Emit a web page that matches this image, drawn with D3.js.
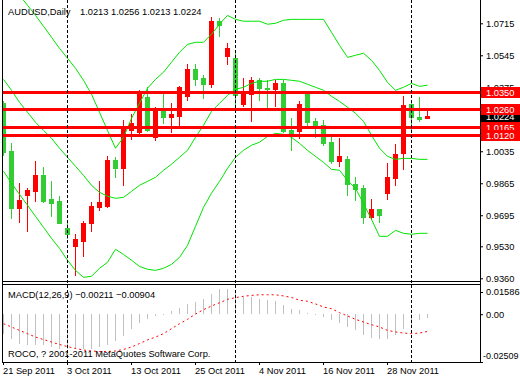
<!DOCTYPE html>
<html><head><meta charset="utf-8">
<script src="https://cdn.jsdelivr.net/npm/d3@7"></script>
<style>
html,body{margin:0;padding:0;background:#fff;}
svg{display:block;}
</style></head><body>
<svg id="c" width="520" height="380"></svg>
<script>
// ---------------- DATA ----------------
const dates = ["2011-09-21","2011-09-22","2011-09-23","2011-09-26","2011-09-27","2011-09-28","2011-09-29","2011-09-30",
"2011-10-03","2011-10-04","2011-10-05","2011-10-06","2011-10-07","2011-10-10","2011-10-11","2011-10-12","2011-10-13","2011-10-14",
"2011-10-17","2011-10-18","2011-10-19","2011-10-20","2011-10-21","2011-10-24","2011-10-25","2011-10-26","2011-10-27","2011-10-28","2011-10-31",
"2011-11-01","2011-11-02","2011-11-03","2011-11-04","2011-11-07","2011-11-08","2011-11-09","2011-11-10","2011-11-11","2011-11-14","2011-11-15",
"2011-11-16","2011-11-17","2011-11-18","2011-11-21","2011-11-22","2011-11-23","2011-11-24","2011-11-25","2011-11-28","2011-11-29","2011-11-30",
"2011-12-01","2011-12-02","2011-12-05"];

const open  = [1.0290,1.0035,0.9732,0.9801,0.9822,0.9907,0.9780,0.9769,0.9626,0.9530,0.9556,0.9652,0.9737,0.9742,0.9987,0.9944,1.0146,1.0136,1.0322,1.0109,1.0263,1.0215,1.0221,1.0327,1.0471,1.0423,1.0391,1.0726,1.0540,1.0529,1.0284,1.0338,1.0412,1.0370,1.0364,1.0396,1.0146,1.0141,1.0338,1.0194,1.0173,1.0083,0.9982,0.9992,0.9859,0.9838,0.9684,0.9727,0.9812,0.9891,1.0024,1.0284,1.0215,1.0213];
const high  = [1.0300,1.0077,0.9865,0.9838,0.9982,0.9950,0.9875,0.9796,0.9668,0.9594,0.9663,0.9764,0.9875,1.0008,1.0003,1.0199,1.0231,1.0359,1.0375,1.0269,1.0348,1.0290,1.0380,1.0497,1.0497,1.0439,1.0747,1.0742,1.0609,1.0556,1.0423,1.0428,1.0423,1.0412,1.0412,1.0412,1.0210,1.0300,1.0343,1.0210,1.0199,1.0109,1.0104,1.0008,0.9897,0.9854,0.9780,0.9727,0.9971,1.0072,1.0327,1.0290,1.0322,1.0256];
const low   = [1.0014,0.9679,0.9658,0.9610,0.9769,0.9764,0.9689,0.9652,0.9572,0.9376,0.9477,0.9610,0.9721,0.9737,0.9897,0.9854,1.0099,1.0130,1.0141,1.0093,1.0184,1.0136,1.0157,1.0306,1.0386,1.0316,1.0375,1.0646,1.0497,1.0263,1.0274,1.0194,1.0306,1.0269,1.0274,1.0136,1.0040,1.0104,1.0157,1.0109,1.0067,0.9971,0.9955,0.9801,0.9774,0.9652,0.9673,0.9658,0.9780,0.9854,0.9939,1.0146,1.0194,1.0213];
const close = [1.0029,0.9732,0.9774,0.9827,0.9907,0.9769,0.9758,0.9652,0.9594,0.9567,0.9652,0.9742,0.9764,0.9987,0.9944,1.0162,1.0184,1.0338,1.0146,1.0258,1.0215,1.0231,1.0375,1.0471,1.0417,1.0391,1.0726,1.0704,1.0582,1.0332,1.0348,1.0412,1.0370,1.0364,1.0396,1.0141,1.0130,1.0284,1.0189,1.0168,1.0077,0.9982,1.0008,0.9859,0.9833,0.9684,0.9727,0.9695,0.9897,1.0019,1.0279,1.0215,1.0205,1.0224];

const bbUpper  = [1.0970,1.0917,1.0864,1.0811,1.0757,1.0699,1.0641,1.0582,1.0529,1.0476,1.0412,1.0338,1.0242,1.0146,1.0051,1.0109,1.0210,1.0290,1.0370,1.0417,1.0455,1.0508,1.0561,1.0603,1.0614,1.0614,1.0657,1.0710,1.0757,1.0736,1.0726,1.0726,1.0726,1.0710,1.0715,1.0731,1.0736,1.0736,1.0736,1.0736,1.0736,1.0667,1.0598,1.0534,1.0545,1.0556,1.0518,1.0465,1.0401,1.0359,1.0375,1.0396,1.0380,1.0386];
const bbMiddle = [1.0417,1.0359,1.0295,1.0242,1.0189,1.0146,1.0104,1.0051,1.0003,0.9955,0.9907,0.9854,0.9817,0.9796,0.9785,0.9790,0.9822,0.9854,0.9875,0.9897,0.9934,0.9966,1.0003,1.0040,1.0109,1.0173,1.0247,1.0290,1.0332,1.0364,1.0375,1.0396,1.0407,1.0407,1.0417,1.0417,1.0412,1.0407,1.0391,1.0375,1.0359,1.0327,1.0300,1.0269,1.0237,1.0194,1.0120,1.0051,1.0008,0.9992,0.9997,0.9997,0.9992,0.9992];
const bbLower  = [0.9929,0.9865,0.9806,0.9748,0.9689,0.9631,0.9572,0.9519,0.9456,0.9402,0.9365,0.9371,0.9413,0.9445,0.9514,0.9487,0.9456,0.9423,0.9408,0.9402,0.9413,0.9434,0.9471,0.9535,0.9636,0.9737,0.9812,0.9875,0.9944,1.0003,1.0040,1.0067,1.0083,1.0114,1.0130,1.0125,1.0109,1.0077,1.0040,1.0008,0.9976,0.9939,0.9934,0.9880,0.9838,0.9758,0.9673,0.9583,0.9583,0.9615,0.9599,0.9594,0.9599,0.9599];

const macdMain   = [-0.0102,-0.0129,-0.0155,-0.0160,-0.0163,-0.0163,-0.0172,-0.0181,-0.0185,-0.0185,-0.0185,-0.0183,-0.0172,-0.0164,-0.0141,-0.0114,-0.0080,-0.0044,-0.0025,-0.0011,-0.0006,0.0015,0.0031,0.0051,0.0064,0.0078,0.0104,0.0131,0.0134,0.0117,0.0090,0.0090,0.0081,0.0073,0.0068,0.0047,0.0029,0.0024,0.0006,-0.0002,-0.0015,-0.0029,-0.0045,-0.0067,-0.0085,-0.0111,-0.0125,-0.0132,-0.0129,-0.0111,-0.0076,-0.0058,-0.0032,-0.00211];
const macdSignal = [-0.0050,-0.0067,-0.0085,-0.0102,-0.0120,-0.0133,-0.0146,-0.0159,-0.0170,-0.0180,-0.0188,-0.0193,-0.0196,-0.0196,-0.0193,-0.0185,-0.0172,-0.0154,-0.0135,-0.0120,-0.0102,-0.0076,-0.0050,-0.0027,0.0001,0.0024,0.0043,0.0060,0.0078,0.0087,0.0094,0.0099,0.0102,0.0102,0.0102,0.0096,0.0088,0.0073,0.0068,0.0054,0.0038,0.0029,0.0008,-0.0009,-0.0027,-0.0041,-0.0055,-0.0067,-0.0085,-0.0093,-0.0099,-0.0102,-0.0099,-0.00904];

const priceTicks = [1.0715,1.0545,1.0375,1.0035,0.9865,0.9695,0.9530,0.9360];
const levels = [1.0350,1.0260,1.0165,1.0120];
const bidPrice = 1.0224;
const macdTicks = [0.01586,0.00,-0.02509];
const macdTickLabels = ["0.01586","0.00","-0.02509"];
const dateTickIdx = [0,8,16,24,32,40,48];
const dateTickLabels = ["21 Sep 2011","3 Oct 2011","13 Oct 2011","25 Oct 2011","4 Nov 2011","16 Nov 2011","28 Nov 2011"];
const symbolTitle = "AUDUSD,Daily";
const macdTitle = "MACD(12,26,9)";
const footer = "ROCO, ? 2001-2011 MetaQuotes Software Corp.";

// ---------------- LAYOUT ----------------
const FONT = "'Liberation Sans', Arial, sans-serif";
const FS = 9.3;
const leftX = 2, rightX = 480, mainTop = 2, mainBot = 281, mTop = 284, mBot = 362;
const RED = "#ff0000", GREEN = "#32cd32", BAND = "#00e400", HIST = "#c0c0c0";

const svg = d3.select("#c");
svg.append("rect").attr("width",520).attr("height",380).attr("fill","#fff");

const n = dates.length;
const x = d3.scaleLinear().domain([0, n - 1]).range([3, 3 + 8 * (n - 1)]);
const y = d3.scaleLinear().domain([0.93456, 1.08282]).range([mainBot, mainTop]);
const ym = d3.scaleLinear().domain([-0.02509, 0.01586]).range([mBot, mTop]);

const defs = svg.append("defs");
defs.append("clipPath").attr("id","clipMain").append("rect")
  .attr("x", leftX + 1).attr("y", 0).attr("width", rightX - leftX - 1).attr("height", mainBot);
defs.append("clipPath").attr("id","clipMacd").append("rect")
  .attr("x", leftX + 1).attr("y", mTop + 1).attr("width", rightX - leftX - 1).attr("height", mBot - mTop - 1);

const idx = d3.range(n);
const gMain = svg.append("g").attr("clip-path","url(#clipMain)");

// candles
const cg = gMain.append("g").attr("shape-rendering","crispEdges");
idx.forEach(i => {
  const up = close[i] >= open[i];
  const col = up ? RED : GREEN;
  const xc = Math.round(x(i));
  const yh = Math.round(y(high[i])), yl = Math.round(y(low[i]));
  cg.append("rect").attr("x", xc).attr("y", yh).attr("width", 1).attr("height", Math.max(1, yl - yh + 1)).attr("fill", col);
  const yt = Math.round(y(Math.max(open[i], close[i]))), yb = Math.round(y(Math.min(open[i], close[i])));
  cg.append("rect").attr("x", xc - 2).attr("y", yt).attr("width", 5).attr("height", Math.max(1, yb - yt + 1)).attr("fill", col);
});

// bollinger bands
[bbUpper, bbMiddle, bbLower].forEach(arr => {
  gMain.append("path").datum(idx)
    .attr("d", d3.line().x(i => x(i) + 0.5).y(i => y(arr[i])))
    .attr("fill","none").attr("stroke", BAND).attr("stroke-width", 1);
});

// horizontal levels
const lg = gMain.append("g").attr("shape-rendering","crispEdges");
levels.forEach(v => {
  lg.append("rect").attr("x", leftX + 1).attr("y", Math.round(y(v)) - 1)
    .attr("width", rightX - leftX - 1).attr("height", 3).attr("fill", RED);
});

// MACD panel
const gM = svg.append("g").attr("clip-path","url(#clipMacd)");
const hg = gM.append("g").attr("shape-rendering","crispEdges");
idx.forEach(i => {
  const y0 = Math.round(ym(0)), y1 = Math.round(ym(macdMain[i]));
  hg.append("rect").attr("x", Math.round(x(i))).attr("y", Math.min(y0, y1))
    .attr("width", 1).attr("height", Math.max(1, Math.abs(y1 - y0))).attr("fill", HIST);
});
gM.append("path").datum(idx)
  .attr("d", d3.line().x(i => x(i) + 0.5).y(i => ym(macdSignal[i])))
  .attr("fill","none").attr("stroke", RED).attr("stroke-width", 1).attr("stroke-dasharray","2,3");

// period separators (first bar of each month)
const sepIdx = idx.filter(i => i > 0 && dates[i].slice(5,7) !== dates[i-1].slice(5,7));
svg.append("g").selectAll("line").data(sepIdx).join("line")
  .attr("x1", i => Math.round(x(i)) + 0.5).attr("x2", i => Math.round(x(i)) + 0.5)
  .attr("y1", 0).attr("y2", mBot)
  .attr("stroke","#000").attr("stroke-width",1).attr("stroke-dasharray","3,2");

// frames
const fr = svg.append("g").attr("stroke","#000").attr("stroke-width",1).attr("shape-rendering","crispEdges");
fr.append("line").attr("x1", leftX + 0.5).attr("x2", leftX + 0.5).attr("y1", 0).attr("y2", mBot + 0.5);
fr.append("line").attr("x1", rightX + 0.5).attr("x2", rightX + 0.5).attr("y1", 0).attr("y2", mBot + 0.5);
fr.append("line").attr("x1", leftX).attr("x2", rightX + 1).attr("y1", mainBot + 0.5).attr("y2", mainBot + 0.5);
fr.append("line").attr("x1", leftX).attr("x2", rightX + 1).attr("y1", mTop + 0.5).attr("y2", mTop + 0.5);
fr.append("line").attr("x1", leftX).attr("x2", rightX + 1).attr("y1", mBot + 0.5).attr("y2", mBot + 0.5);

// price axis
const gy = svg.append("g").attr("transform", `translate(${rightX},0)`)
  .call(d3.axisRight(y).tickValues(priceTicks).tickFormat(d3.format(".4f")).tickSize(3).tickPadding(3));
gy.select(".domain").remove();
gy.attr("font-family", FONT).attr("font-size", FS);
gy.selectAll("text").attr("fill","#000");

// macd axis
const gmy = svg.append("g").attr("transform", `translate(${rightX},0)`)
  .call(d3.axisRight(ym).tickValues(macdTicks).tickFormat((d,i) => macdTickLabels[i]).tickSize(3).tickPadding(3));
gmy.select(".domain").remove();
gmy.attr("font-family", FONT).attr("font-size", FS);
gmy.selectAll("text").attr("fill","#000");
gmy.selectAll(".tick").filter(d => d === macdTicks[0]).attr("transform", `translate(0,${ym(macdTicks[0]) + 8.5})`);
gmy.selectAll(".tick").filter(d => d === macdTicks[2]).select("text").attr("y", -6).attr("x", 3).attr("font-size", 9);

// date axis
const gx = svg.append("g").attr("transform", `translate(0,${mBot})`)
  .call(d3.axisBottom(x).tickValues(dateTickIdx).tickFormat((d,i) => dateTickLabels[i]).tickSize(3).tickPadding(2));
gx.select(".domain").remove();
gx.attr("font-family", FONT).attr("font-size", FS);
gx.selectAll("text").attr("text-anchor","start").attr("x", -0.5).attr("fill","#000");

// price labels on the right
const lab = svg.append("g").attr("font-family", FONT).attr("font-size", FS);
function priceLabel(v, bg) {
  const yy = Math.round(y(v));
  lab.append("rect").attr("x", rightX + 1).attr("y", yy - 5).attr("width", 520 - rightX - 1).attr("height", 11)
    .attr("fill", bg).attr("shape-rendering","crispEdges");
  lab.append("text").attr("x", rightX + 6).attr("y", yy + 3.6).attr("fill","#fff").text(d3.format(".4f")(v));
}
priceLabel(bidPrice, "#000");
levels.forEach(v => priceLabel(v, RED));

// titles
const t = svg.append("g").attr("font-family", FONT).attr("font-size", FS).attr("fill","#000");
const last = n - 1;
t.append("text").attr("x", 8).attr("y", 15).text(symbolTitle);
t.append("text").attr("x", 80).attr("y", 15)
  .text([open[last], high[last], low[last], close[last]].map(d3.format(".4f")).join(" "));
t.append("text").attr("x", 8).attr("y", 298)
  .text(`${macdTitle} ${d3.format(".5f")(macdMain[last])} ${d3.format(".5f")(macdSignal[last])}`);
t.append("text").attr("x", 8).attr("y", 357).text(footer);
</script></body></html>
